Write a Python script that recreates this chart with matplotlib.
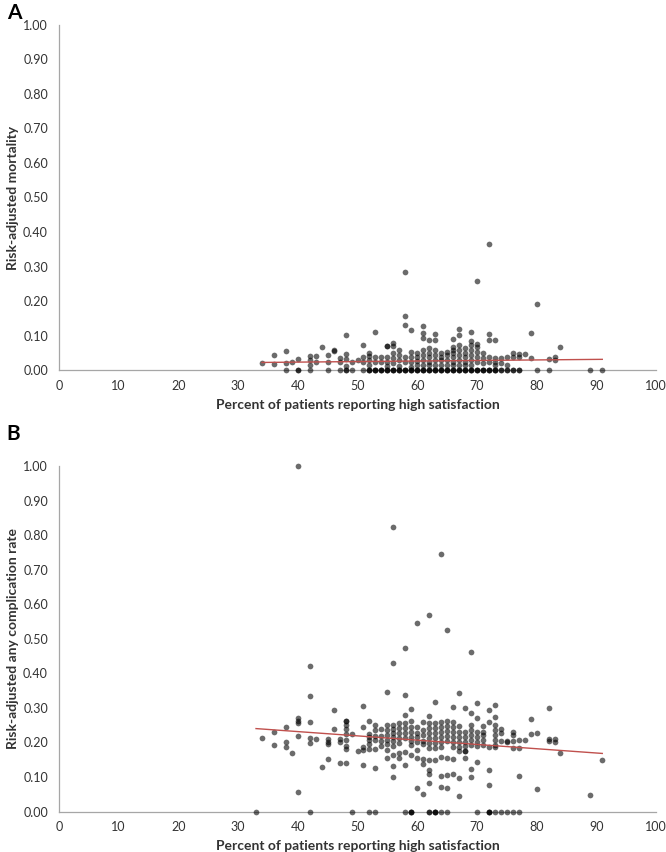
import numpy as np
import matplotlib
matplotlib.use("Agg")
import matplotlib.pyplot as plt

plt.rcParams["font.family"] = ["Lato", "DejaVu Sans"]

# Panel A - satisfaction (%) columns and risk-adjusted mortality per hospital
sat_a = [34, 36, 38, 39, 40, 42, 43, 44, 45, 46, 47, 48, 49, 50, 51, 52, 53, 54,
         55, 56, 57, 58, 59, 60, 61, 62, 63, 64, 65, 66, 67, 68, 69, 70, 71, 72,
         73, 74, 75, 76, 77, 78, 79, 80, 82, 83, 84, 89, 91]
mort_a = [
    [0.021],
    [0.043, 0.017],
    [0.055, 0.02, 0],
    [0.022],
    [0.033, 0, 0],
    [0.04, 0.03, 0.016, 0],
    [0.04, 0.022],
    [0.066],
    [0.043, 0.022, 0],
    [0.058, 0.055],
    [0.034, 0.022, 0],
    [0.102, 0.045, 0.032, 0.013, 0, 0],
    [0.022, 0],
    [0.03],
    [0.072, 0.037, 0.022, 0],
    [0.048, 0.04, 0.03, 0.016, 0, 0, 0],
    [0.109, 0.037, 0.022, 0, 0, 0],
    [0.037, 0.022, 0, 0, 0],
    [0.07, 0.07, 0.037, 0.022, 0.012, 0, 0, 0],
    [0.077, 0.07, 0.048, 0.034, 0.019, 0, 0, 0],
    [0.058, 0.043, 0.03, 0.012, 0, 0, 0],
    [0.285, 0.158, 0.131, 0.037, 0.022, 0, 0, 0],
    [0.116, 0.053, 0.037, 0.022, 0.01, 0, 0, 0],
    [0.048, 0.037, 0.027, 0.015, 0, 0, 0],
    [0.128, 0.106, 0.092, 0.058, 0.043, 0.03, 0.015, 0, 0, 0],
    [0.087, 0.065, 0.048, 0.037, 0.024, 0.015, 0, 0, 0],
    [0.103, 0.087, 0.058, 0.043, 0.029, 0.015, 0, 0, 0],
    [0.048, 0.039, 0.03, 0.015, 0, 0, 0],
    [0.053, 0.043, 0.029, 0.015, 0, 0, 0],
    [0.089, 0.068, 0.058, 0.048, 0.037, 0.024, 0.015, 0, 0, 0],
    [0.119, 0.101, 0.072, 0.058, 0.043, 0.029, 0.015, 0, 0, 0],
    [0.063, 0.048, 0.037, 0.024, 0.015, 0, 0, 0],
    [0.109, 0.085, 0.072, 0.058, 0.043, 0.029, 0.015, 0, 0, 0],
    [0.259, 0.074, 0.068, 0.053, 0.039, 0.024, 0, 0, 0],
    [0.048, 0.034, 0.019, 0, 0, 0],
    [0.365, 0.104, 0.087, 0.039, 0.024, 0, 0, 0],
    [0.087, 0.034, 0.024, 0.015, 0, 0, 0],
    [0.034, 0.019, 0, 0],
    [0.039, 0.015, 0, 0],
    [0.048, 0.039, 0, 0],
    [0.045, 0.037, 0, 0],
    [0.046],
    [0.106, 0.034],
    [0.19, 0],
    [0.033, 0],
    [0.039, 0.029],
    [0.066],
    [0],
    [0],
]

# Panel B - satisfaction (%) columns and risk-adjusted any complication rate
sat_b = [33, 34, 36, 38, 39, 40, 42, 43, 44, 45, 46, 47, 48, 49, 50, 51, 52, 53,
         54, 55, 56, 57, 58, 59, 60, 61, 62, 63, 64, 65, 66, 67, 68, 69, 70, 71,
         72, 73, 74, 75, 76, 77, 78, 79, 80, 82, 83, 84, 89, 91]
comp_b = [
    [0],
    [0.214],
    [0.231, 0.193],
    [0.245, 0.2, 0.188],
    [0.17],
    [1.0, 0.27, 0.263, 0.255, 0.22, 0.057],
    [0.42, 0.335, 0.26, 0.214, 0.197, 0],
    [0.209],
    [0.13],
    [0.21, 0.202, 0.195, 0.151],
    [0.294, 0.239],
    [0.209, 0.2, 0.141],
    [0.262, 0.262, 0.25, 0.238, 0.223, 0.207, 0.19, 0.18, 0.141],
    [0.223, 0],
    [0.175],
    [0.305, 0.245, 0.186, 0.178, 0.135],
    [0.263, 0.223, 0.216, 0.207, 0.195, 0.18, 0],
    [0.25, 0.236, 0.22, 0.207, 0.181, 0.127, 0],
    [0.238, 0.22, 0.205, 0.19],
    [0.347, 0.25, 0.236, 0.221, 0.207, 0.195, 0.178, 0.154],
    [0.825, 0.431, 0.25, 0.238, 0.226, 0.217, 0.205, 0.19, 0.164, 0.133, 0.099],
    [0.255, 0.241, 0.226, 0.212, 0.199, 0.17, 0.154],
    [0.474, 0.338, 0.279, 0.255, 0.241, 0.226, 0.212, 0.173, 0.135, 0],
    [0.297, 0.263, 0.244, 0.231, 0.217, 0.205, 0.193, 0.164, 0, 0, 0],
    [0.546, 0.244, 0.228, 0.215, 0.2, 0.178, 0.156, 0.067],
    [0.26, 0.236, 0.221, 0.205, 0.195, 0.151, 0.137, 0.05],
    [0.57, 0.276, 0.255, 0.241, 0.226, 0.212, 0.197, 0.183, 0.149, 0.12, 0.109, 0.083, 0, 0],
    [0.316, 0.255, 0.241, 0.226, 0.212, 0.197, 0.183, 0.149, 0, 0, 0],
    [0.745, 0.26, 0.245, 0.231, 0.217, 0.202, 0.188, 0.157, 0.103, 0.07, 0],
    [0.525, 0.262, 0.247, 0.233, 0.218, 0.205, 0.154, 0.107, 0.067, 0],
    [0.303, 0.26, 0.245, 0.231, 0.217, 0.202, 0.188, 0.151, 0.11],
    [0.344, 0.247, 0.231, 0.217, 0.202, 0.188, 0.175, 0.096, 0.045],
    [0.299, 0.231, 0.217, 0.202, 0.19, 0.175, 0.175, 0.156],
    [0.461, 0.286, 0.25, 0.236, 0.221, 0.207, 0.193, 0.122, 0.1],
    [0.313, 0.27, 0.231, 0.217, 0.202, 0.19, 0.144, 0],
    [0.247, 0.231, 0.221, 0.207, 0.193],
    [0.294, 0.258, 0.188, 0.12, 0.077, 0, 0, 0],
    [0.308, 0.274, 0.25, 0.236, 0.221, 0.207, 0.193, 0.188, 0],
    [0.238, 0.226, 0.204, 0],
    [0.204, 0.2, 0],
    [0.231, 0.221, 0.204, 0.183, 0],
    [0.207, 0.183, 0.103, 0],
    [0.207],
    [0.268, 0.224],
    [0.226, 0.065],
    [0.3, 0.21, 0.204],
    [0.209, 0.202],
    [0.17],
    [0.048],
    [0.149],
]

# linear trend lines: (intercept, slope)
trend_a = (0.0166, 0.000158)
trend_b = (0.281, -0.00124)

x_ticks = list(range(0, 101, 10))
y_ticks = [0.0, 0.1, 0.2, 0.3, 0.4, 0.5, 0.6, 0.7, 0.8, 0.9, 1.0]
x_label = "Percent of patients reporting high satisfaction"


def flatten(cols, vals):
    xs, ys = [], []
    for c, v in zip(cols, vals):
        xs += [c] * len(v)
        ys += v
    return np.array(xs, float), np.array(ys, float)


def draw_panel(ax, cols, vals, trend, ylabel):
    x, y = flatten(cols, vals)
    # full dots on the axis line, not half-clipped ones
    ax.scatter(x, y, s=17, color="black", alpha=0.58, linewidths=0, zorder=3,
               clip_on=False)
    xx = np.array([x.min(), x.max()])
    ax.plot(xx, trend[0] + trend[1] * xx, color="#c0504d", lw=1.0, zorder=4)

    ax.set_xlim(0, 100)
    ax.set_ylim(0, 1)
    ax.set_xticks(x_ticks)
    ax.set_yticks(y_ticks)
    ax.set_yticklabels([f"{t:.2f}" for t in y_ticks])
    ax.tick_params(length=0, labelsize=9, labelcolor="#333333")
    ax.tick_params(axis="y", pad=8)
    ax.tick_params(axis="x", pad=7)
    for s in ["top", "right"]:
        ax.spines[s].set_visible(False)
    for s in ["left", "bottom"]:
        ax.spines[s].set_color("#a6a6a6")
        ax.spines[s].set_linewidth(0.9)
        ax.spines[s].set_zorder(2)
    ax.set_xlabel(x_label, fontsize=10, fontweight="bold", color="#333333", labelpad=5)
    ax.set_ylabel(ylabel, fontsize=10, fontweight="bold", color="#333333", labelpad=3)


fig = plt.figure(figsize=(6.66, 8.52), dpi=100)
ax_a = fig.add_axes([0.0886, 0.5657, 0.8964, 0.405])
ax_b = fig.add_axes([0.0886, 0.0475, 0.8964, 0.4055])

draw_panel(ax_a, sat_a, mort_a, trend_a, "Risk-adjusted mortality")
draw_panel(ax_b, sat_b, comp_b, trend_b, "Risk-adjusted any complication rate")

fig.text(0.01, 0.997, "A", fontsize=15, fontweight="bold", va="top")
fig.text(0.01, 0.502, "B", fontsize=15, fontweight="bold", va="top")

fig.savefig("out.png", dpi=100)
